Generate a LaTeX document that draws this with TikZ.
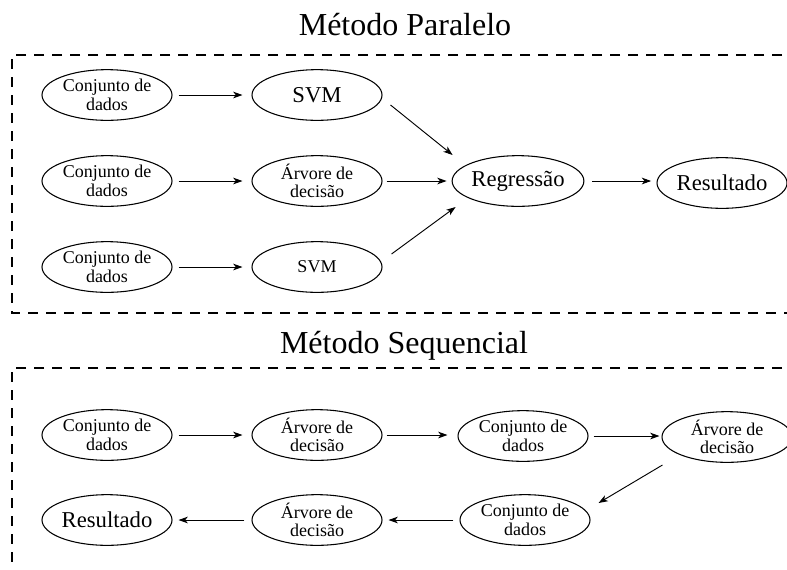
\documentclass[tikz,border=0pt]{standalone}
\usepackage{fontspec}
\setmainfont{Liberation Serif}
\usetikzlibrary{shapes.geometric,arrows.meta,calc}

\tikzset{
  ell/.style={ellipse, draw, line width=0.8pt, minimum width=97.5pt,
    minimum height=38pt, inner sep=0pt, align=center,
    font=\fontsize{13.5}{14}\selectfont},
  bigtext/.style={font=\fontsize{17}{18}\selectfont},
  arr/.style={-{Stealth[length=7pt,width=5pt,inset=2pt]}, line width=0.7pt},
  frame/.style={line width=1.3pt, dash pattern=on 7.5pt off 6pt},
  title/.style={anchor=base, font=\fontsize{24}{26}\selectfont}
}

\begin{document}
\begin{tikzpicture}[x=0.75pt, y=-0.75pt]
\useasboundingbox (0,0) rectangle (787,569);

% ---- parallel method ----
\node[title] (t1) at (405,35) {Método Paralelo};
\draw[frame] (800,55) -- (12,55) -- (12,313) -- (800,313);

\node[ell] (c1) at (107,95) {Conjunto de\\dados};
\node[ell, bigtext] (s1) at (317,95) {SVM};
\node[ell] (c2) at (107,181) {Conjunto de\\dados};
\node[ell] (a2) at (317,181) {Árvore de\\decisão};
\node[ell] (c3) at (107,267) {Conjunto de\\dados};
\node[ell] (s3) at (317,267) {SVM};
\node[ell, bigtext] (reg) at (518,181) {Regressão};
\node[ell, bigtext] (res) at (722,183) {Resultado};

\draw[arr, shorten <=4.5pt, shorten >=6.75pt] (c1) -- (s1);
\draw[arr, shorten <=4.5pt, shorten >=6.75pt] (c2) -- (a2);
\draw[arr, shorten <=4.5pt, shorten >=6.75pt] (c3) -- (s3);
\draw[arr] ($(s1.east)+(8,10)$) -- ($(reg.west)+(1,-26)$);
\draw[arr, shorten <=3pt, shorten >=3.75pt] (a2.east) -- (reg.west);
\draw[arr] ($(s3.east)+(9,-13)$) -- ($(reg.west)+(4,26)$);
\draw[arr, shorten <=6pt, shorten >=4pt] (reg.east) -- (res.west |- reg.east);

% ---- sequential method ----
\node[title] (t2) at (404,353) {Método Sequencial};
\draw[frame] (800,368) -- (12,368) -- (12,580);

\node[ell] (b1) at (107,435) {Conjunto de\\dados};
\node[ell] (b2) at (317,435) {Árvore de\\decisão};
\node[ell] (b3) at (523,436) {Conjunto de\\dados};
\node[ell] (b4) at (727,437) {Árvore de\\decisão};
\node[ell] (b5) at (525,520) {Conjunto de\\dados};
\node[ell] (b6) at (317,520) {Árvore de\\decisão};
\node[ell, bigtext] (b7) at (107,520) {Resultado};

\draw[arr, shorten <=4.5pt, shorten >=6.75pt] (b1) -- (b2);
\draw[arr, shorten <=3pt, shorten >=7.5pt] (b2.east) -- (b3.west |- b2.east);
\draw[arr, shorten <=3.75pt, shorten >=1.5pt] (b3.east) -- (b4.west |- b3.east);
\draw[arr] ($(b4.west)+(1,28)$) -- ($(b5.east)+(8,-17)$);
\draw[arr, shorten <=4.5pt, shorten >=4.5pt] (b5) -- (b6);
\draw[arr, shorten <=5.25pt, shorten >=4.5pt] (b6) -- (b7);
\end{tikzpicture}
\end{document}
